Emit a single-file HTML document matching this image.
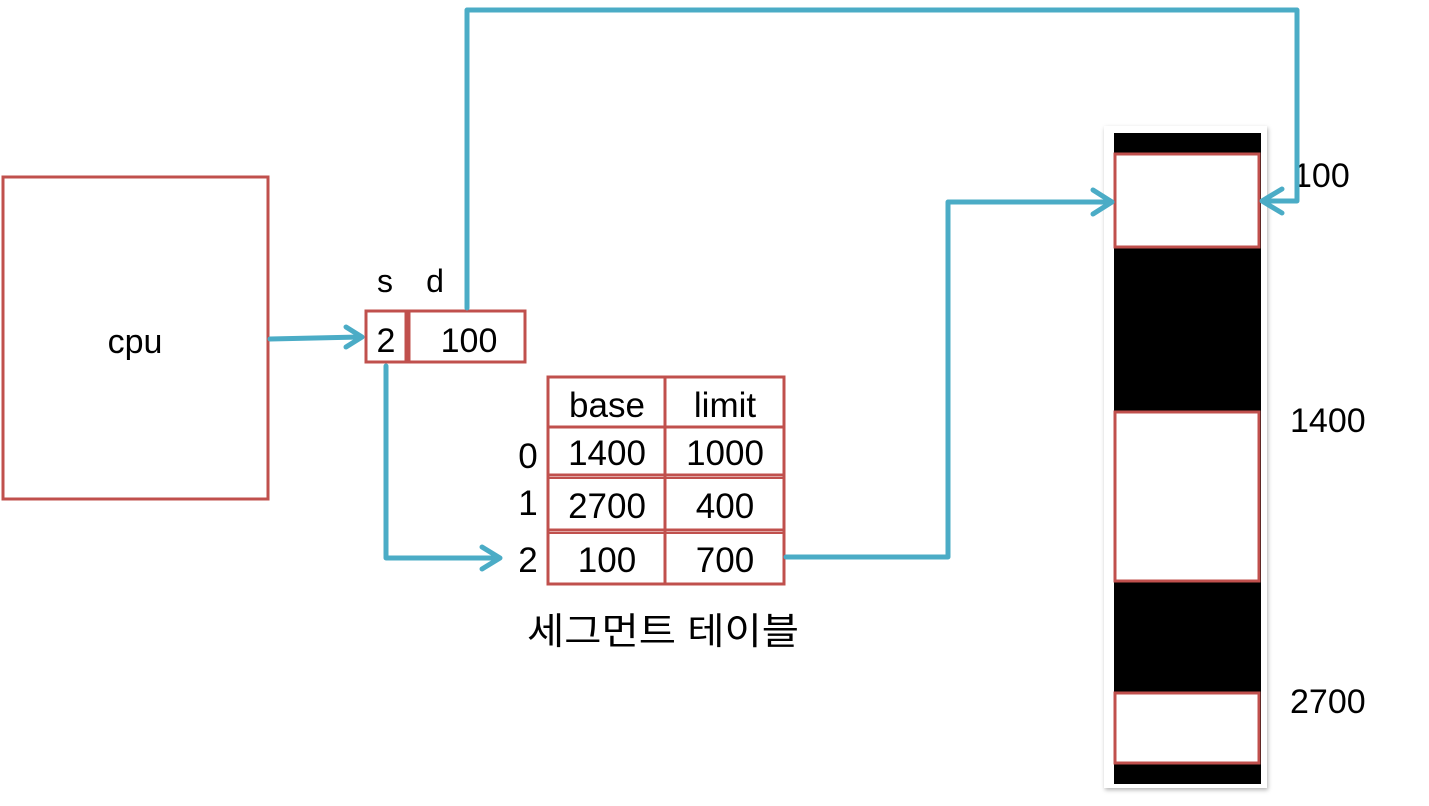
<!DOCTYPE html>
<html><head><meta charset="utf-8"><style>
html,body{margin:0;padding:0;background:#fff;}
svg text{font-family:"Liberation Sans","Noto Sans CJK KR",sans-serif;fill:#000;}
</style></head><body>
<svg width="1429" height="801" viewBox="0 0 1429 801" xmlns="http://www.w3.org/2000/svg">
<defs>
<filter id="sh" x="-10%" y="-10%" width="120%" height="120%"><feDropShadow dx="1" dy="2" stdDeviation="2" flood-color="#000" flood-opacity="0.3"/></filter>
</defs>
<g>
<rect x="3" y="177" width="265" height="322" fill="#fff" stroke="#c0504d" stroke-width="3"/>
<text x="135" y="353" font-size="34" text-anchor="middle">cpu</text>
</g>
<g>
<text x="385" y="292" font-size="32" text-anchor="middle">s</text>
<text x="435" y="292" font-size="32" text-anchor="middle">d</text>
<rect x="366" y="311" width="40" height="51" fill="#fff" stroke="#c0504d" stroke-width="3"/>
<rect x="409" y="311" width="116" height="51" fill="#fff" stroke="#c0504d" stroke-width="3"/>
<text x="386" y="352" font-size="34" text-anchor="middle">2</text>
<text x="469" y="352" font-size="34" text-anchor="middle">100</text>
</g>
<g>
<rect x="548" y="377" width="236" height="207" fill="#fff" stroke="#c0504d" stroke-width="3"/>
<line x1="665" y1="377" x2="665" y2="584" stroke="#c0504d" stroke-width="3"/>
<line x1="548" y1="427" x2="784" y2="427" stroke="#c0504d" stroke-width="3"/>
<line x1="548" y1="475" x2="784" y2="475" stroke="#c0504d" stroke-width="3"/>
<line x1="548" y1="478" x2="784" y2="478" stroke="#c0504d" stroke-width="2"/>
<line x1="548" y1="530" x2="784" y2="530" stroke="#c0504d" stroke-width="3"/>
<line x1="548" y1="533" x2="784" y2="533" stroke="#c0504d" stroke-width="2"/>
<g font-size="35" text-anchor="middle">
<text x="607" y="417">base</text><text x="725" y="417">limit</text>
<text x="607" y="465">1400</text><text x="725" y="465">1000</text>
<text x="607" y="518">2700</text><text x="725" y="518">400</text>
<text x="607" y="572">100</text><text x="725" y="572">700</text>
<text x="528" y="468">0</text><text x="528" y="515">1</text><text x="528" y="572">2</text>
</g>
<text x="663" y="644" font-size="37" text-anchor="middle" textLength="272" lengthAdjust="spacingAndGlyphs">세그먼트 테이블</text>
</g>
<g>
<rect x="1104" y="126" width="163" height="662" fill="#fff" filter="url(#sh)"/>
<rect x="1114" y="133" width="147" height="651" fill="#000"/>
<rect x="1115" y="154" width="144" height="93" fill="#fff" stroke="#c0504d" stroke-width="3"/>
<rect x="1115" y="412" width="144" height="169" fill="#fff" stroke="#c0504d" stroke-width="3"/>
<rect x="1115" y="693" width="144" height="70" fill="#fff" stroke="#c0504d" stroke-width="3"/>
<g font-size="34">
<text x="1293" y="187">100</text><text x="1290" y="432">1400</text><text x="1290" y="713">2700</text>
</g>
</g>
<g fill="none" stroke="#4bacc6" stroke-width="5" stroke-linecap="round" stroke-linejoin="round">
<path d="M270 339 L360 337"/><path d="M346 327 L362 337 L346 347"/>
<path d="M386 366 L386 558 L498 558"/><path d="M482 547 L500 558 L482 569"/>
<path d="M786 557 L948 557 L948 202 L1110 202"/><path d="M1093 190 L1112 202 L1093 214"/>
<path d="M467 308 L467 10 L1297 10 L1297 201 L1264 201"/><path d="M1282 189 L1262 201 L1282 213"/>
</g>
</svg>
</body></html>
